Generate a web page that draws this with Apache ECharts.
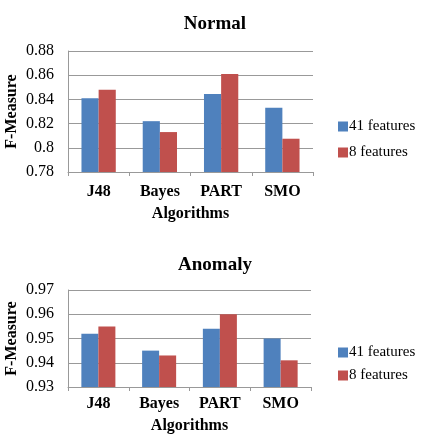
<!DOCTYPE html>
<html>
<head>
<meta charset="utf-8">
<script src="https://cdn.jsdelivr.net/npm/echarts@6/dist/echarts.min.js"></script>
<style>
  html, body { margin: 0; padding: 0; background: #fff; }
  #chart { width: 425px; height: 439px; }
</style>
</head>
<body>
<div id="chart"></div>
<script>
  // data
  var algorithms = ['J48', 'Bayes', 'PART', 'SMO'];
  var seriesNames = ['41 features', '8 features'];
  var normal41 = [0.841, 0.822, 0.8445, 0.833];
  var normal8 = [0.848, 0.813, 0.861, 0.8075];
  var anomaly41 = [0.952, 0.945, 0.954, 0.950];
  var anomaly8 = [0.955, 0.943, 0.960, 0.941];

  var blue = '#4F81BD';
  var red = '#C0504D';
  var font = '"Liberation Serif", "Times New Roman", serif';

  function xAx(idx, labelMargin, nameGap) {
    return {
      type: 'category', gridIndex: idx, data: algorithms,
      name: 'Algorithms', nameLocation: 'middle', nameGap: nameGap, nameMoveOverlap: false,
      nameTextStyle: { fontFamily: font, fontWeight: 'bold', fontSize: 16, color: '#000' },
      axisLine: { lineStyle: { color: '#999' } },
      axisTick: { show: true, length: 4, lineStyle: { color: '#999' } },
      axisLabel: { margin: labelMargin, fontFamily: font, fontWeight: 'bold', fontSize: 16, color: '#000' }
    };
  }
  function yAx(idx, min, max, step) {
    return {
      type: 'value', gridIndex: idx, min: min, max: max, interval: step,
      name: 'F-Measure', nameLocation: 'middle', nameGap: 48, nameMoveOverlap: false,
      nameTextStyle: { fontFamily: font, fontWeight: 'bold', fontSize: 16, color: '#000' },
      axisLine: { show: true, lineStyle: { color: '#999' } },
      axisTick: { show: false },
      splitLine: { lineStyle: { color: '#999' } },
      axisLabel: {
        margin: 14, fontFamily: font, fontSize: 16, color: '#000',
        formatter: function (v) { return String(parseFloat(v.toFixed(2))); }
      }
    };
  }
  function bars(name, data, color, idx) {
    return {
      name: name, type: 'bar', data: data, xAxisIndex: idx, yAxisIndex: idx,
      itemStyle: { color: color }, barGap: '0%', barCategoryGap: '44%'
    };
  }
  function legend(top, gap) {
    return {
      data: seriesNames, orient: 'vertical', left: 333, top: top,
      icon: 'rect', itemWidth: 10, itemHeight: 10, itemGap: gap,
      textStyle: { fontFamily: font, fontSize: 15, color: '#000', padding: [0, 0, 0, -4] }
    };
  }

  var myChart = echarts.init(document.getElementById('chart'));
  myChart.setOption({
    animation: false,
    title: [
      { text: 'Normal', left: 210, textAlign: 'center', top: 10,
        textStyle: { fontFamily: font, fontWeight: 'bold', fontSize: 19, color: '#000' } },
      { text: 'Anomaly', left: 210, textAlign: 'center', top: 251,
        textStyle: { fontFamily: font, fontWeight: 'bold', fontSize: 19, color: '#000' } }
    ],
    legend: [legend(114, 11), legend(340, 8)],
    grid: [
      { left: 68, top: 51, width: 245, height: 121, outerBoundsMode: 'none' },
      { left: 68, top: 290, width: 243, height: 97, outerBoundsMode: 'none' }
    ],
    xAxis: [xAx(0, 12, 34), xAx(1, 9, 31)],
    yAxis: [yAx(0, 0.78, 0.88, 0.02), yAx(1, 0.93, 0.97, 0.01)],
    series: [
      bars(seriesNames[0], normal41, blue, 0),
      bars(seriesNames[1], normal8, red, 0),
      bars(seriesNames[0], anomaly41, blue, 1),
      bars(seriesNames[1], anomaly8, red, 1)
    ]
  });
</script>
</body>
</html>
